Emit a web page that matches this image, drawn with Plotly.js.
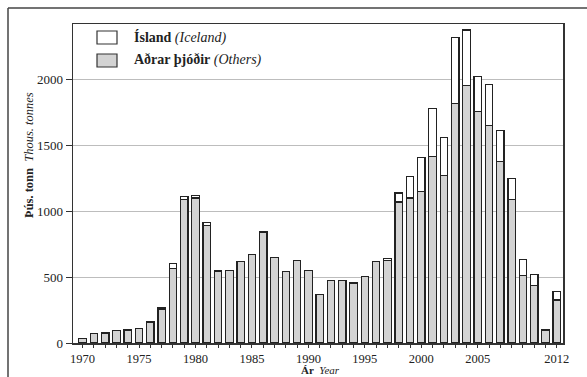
<!DOCTYPE html>
<html>
<head>
<meta charset="utf-8">
<script src="https://cdn.plot.ly/plotly-3.0.1.min.js"></script>
<style>html,body{margin:0;padding:0;background:#fff;}#chart{width:587px;height:377px;}</style>
</head>
<body>
<div id="chart"></div>
<script>
const years = [1970,1971,1972,1973,1974,1975,1976,1977,1978,1979,1980,1981,1982,1983,1984,1985,1986,1987,1988,1989,1990,1991,1992,1993,1994,1995,1996,1997,1998,1999,2000,2001,2002,2003,2004,2005,2006,2007,2008,2009,2010,2011,2012];
const others = [33,72,75,94,99,109,158,255,568,1089,1100,892,547,552,618,673,842,651,545,625,550,365,474,474,455,505,618,626,1069,1100,1148,1416,1269,1816,1953,1758,1649,1376,1087,514,436,99,327];
const iceland = [2,3,3,3,3,3,4,10,37,25,19,25,0,0,0,0,0,0,0,0,0,0,0,0,0,0,0,15,69,164,260,362,287,500,421,266,312,235,159,117,83,0,63];
const labelYears = [1970,1975,1980,1985,1990,1995,2000,2005,2012];
const yTicks = [0,500,1000,1500,2000];

const L = 73, R = 563, T = 24, B = 343;
const px = v => (v - L) / (R - L);
const py = v => (B - v) / (B - T);
const serif = "'Liberation Serif', 'DejaVu Serif', serif";

const traces = [
  {type:'bar', x: years, y: others, name:'Aðrar þjóðir (Others)', width:0.66,
   marker:{color:'#d3d3d3', line:{color:'#222', width:1.2}}, showlegend:false},
  {type:'bar', x: years, y: iceland, name:'Ísland (Iceland)', width:0.66,
   marker:{color:'#ffffff', line:{color:'#222', width: iceland.map(v => v > 0 ? 1.2 : 0)}}, showlegend:false}
];

const layout = {
  width:587, height:377,
  margin:{l:L, r:587-R, t:T, b:377-B, pad:0},
  paper_bgcolor:'#fff', plot_bgcolor:'#fff',
  barmode:'stack', bargap:0,
  font:{family:serif, size:13, color:'#222'},
  xaxis:{range:[1969.15, 2012.55], tickvals: years,
    ticktext: years.map(y => labelYears.includes(y) ? String(y) : ''),
    ticks:'outside', ticklen:3, tickcolor:'#333', tickwidth:1,
    showline:true, mirror:true, linecolor:'#333', linewidth:1.5,
    showgrid:false, zeroline:false, tickangle:0,
    tickfont:{family:serif, size:12.5, color:'#222'}},
  yaxis:{range:[0, 2420], tickvals: yTicks, ticktext: yTicks.map(String),
    ticks:'outside', ticklen:6, tickcolor:'#333', tickwidth:1,
    showline:true, mirror:true, linecolor:'#333', linewidth:1.5,
    showgrid:true, gridcolor:'#bdbdbd', gridwidth:1, zeroline:false,
    tickfont:{family:serif, size:13, color:'#222'}},
  shapes:[
    {type:'line', xref:'paper', yref:'paper', x0:px(8), x1:px(587), y0:py(8), y1:py(8), line:{color:'#444', width:1.5}},
    {type:'line', xref:'paper', yref:'paper', x0:px(8), x1:px(8), y0:py(8), y1:py(377), line:{color:'#444', width:1.5}},
    {type:'rect', xref:'paper', yref:'paper', x0:px(97), x1:px(117), y0:py(44), y1:py(31), fillcolor:'#fff', line:{color:'#333', width:1.2}},
    {type:'rect', xref:'paper', yref:'paper', x0:px(97), x1:px(117), y0:py(67), y1:py(54), fillcolor:'#d3d3d3', line:{color:'#333', width:1.2}}
  ],
  annotations:[
    {xref:'paper', yref:'paper', x:px(132), y:py(37.5), xanchor:'left', yanchor:'middle', showarrow:false,
     text:'<b>Ísland</b> <i>(Iceland)</i>', font:{family:serif, size:14, color:'#222'}},
    {xref:'paper', yref:'paper', x:px(132), y:py(60.5), xanchor:'left', yanchor:'middle', showarrow:false,
     text:'<b>Aðrar þjóðir</b> <i>(Others)</i>', font:{family:serif, size:14, color:'#222'}},
    {xref:'paper', yref:'paper', x:px(29), y:py(155), xanchor:'center', yanchor:'middle', showarrow:false, textangle:-90,
     text:'<b>Þús. tonn</b>  <i>Thous. tonnes</i>', font:{family:serif, size:12.5, color:'#222'}},
    {xref:'paper', yref:'paper', x:px(320), y:py(370), xanchor:'center', yanchor:'middle', showarrow:false,
     text:'<b>Ár</b>  <i>Year</i>', font:{family:serif, size:11, color:'#222'}}
  ]
};

Plotly.newPlot('chart', traces, layout, {displayModeBar:false, staticPlot:true});
</script>
</body>
</html>
